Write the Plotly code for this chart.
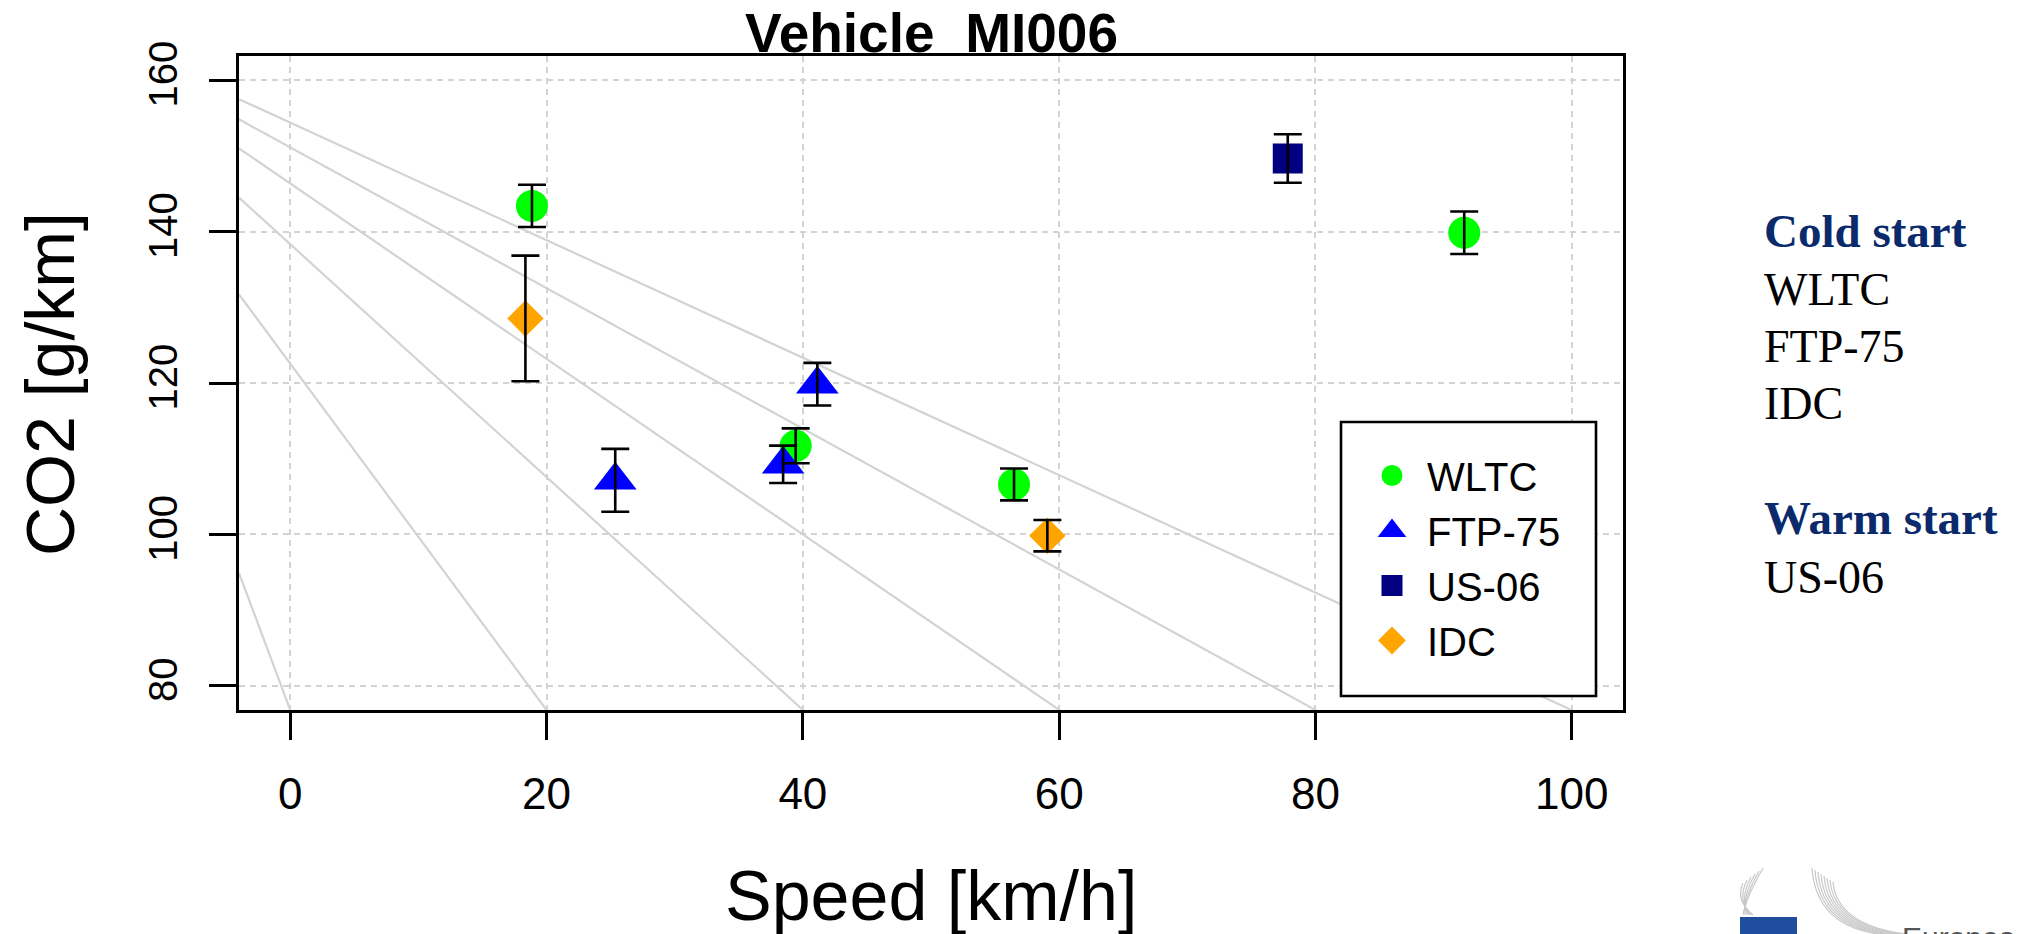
import plotly.graph_objects as go

# ---------------- data ----------------
wltc_speed = [18.86, 39.44, 56.48, 91.61]
wltc_co2 = [143.4, 111.7, 106.6, 139.85]
wltc_err = [2.8, 2.3, 2.1, 2.8]

ftp_speed = [25.36, 38.46, 41.13]
ftp_co2 = [107.15, 109.26, 119.84]
ftp_err = [4.15, 2.47, 2.82]

us06_speed = [77.84]
us06_co2 = [149.66]
us06_err = [3.2]

idc_speed = [18.35, 59.08]
idc_co2 = [128.53, 99.83]
idc_err = [8.3, 2.07]

# grey reference lines: CO2 = intercept + slope * speed
ref_intercepts = [154.39, 151.12, 146.36, 138.33, 122.55, 76.8]
ref_slopes = [-0.776, -0.929, -1.159, -1.538, -2.2875, -4.5225]

x_ticks = [0, 20, 40, 60, 80, 100]
y_ticks = [80, 100, 120, 140, 160]
x_range = [-4, 104]
y_range = [76.8, 163.2]

cold_start = ["WLTC", "FTP-75", "IDC"]
warm_start = ["US-06"]

# ---------------- layout geometry ----------------
OFF = 8  # page body margin
W, H = 2023 - OFF, 934 - OFF
PL, PR, PT, PB = 239, 1623, 56, 710  # plot area in screen pixels
L, T = PL - OFF, PT - OFF
R = W - (PR - OFF)
B = H - (PB - OFF)
PW, PH = PR - PL, PB - PT


def px_x(x):
    return (x - PL) / PW


def px_y(y):
    return (PB - y) / PH


SANS = "Liberation Sans, Arial, sans-serif"
SERIF = "Liberation Serif, Times New Roman, serif"
NAVY = "#0b2a6b"

fig = go.Figure()

# reference lines
for a, b in zip(ref_intercepts, ref_slopes):
    fig.add_trace(go.Scatter(
        x=x_range, y=[a + b * x_range[0], a + b * x_range[1]],
        mode="lines", line=dict(color="#d3d3d3", width=2.2),
        showlegend=False, hoverinfo="skip"))

series = [
    ("WLTC", wltc_speed, wltc_co2, wltc_err, "circle", "#00ff00", 32),
    ("FTP-75", ftp_speed, ftp_co2, ftp_err, "triangle-up", "#0000ff", 37),
    ("US-06", us06_speed, us06_co2, us06_err, "square", "#000080", 30),
    ("IDC", idc_speed, idc_co2, idc_err, "diamond", "#ffa500", 28),
]

for name, xs, ys, es, sym, col, size in series:
    fig.add_trace(go.Scatter(
        x=xs, y=ys, mode="markers", name=name, legendgroup=name,
        marker=dict(symbol=sym, color=col, size=size, line=dict(width=0)),
        showlegend=False))

# error bars drawn on top of the markers
for name, xs, ys, es, sym, col, size in series:
    fig.add_trace(go.Scatter(
        x=xs, y=ys, mode="markers", legendgroup=name,
        marker=dict(size=1, opacity=0),
        error_y=dict(type="data", array=es, visible=True,
                     color="black", thickness=2.6, width=14),
        showlegend=False, hoverinfo="skip"))

# legend entries (bigger symbols via a same-colour outline)
for name, xs, ys, es, sym, col, size in series:
    fig.add_trace(go.Scatter(
        x=[None], y=[None], mode="markers", name=name, legendgroup=name,
        marker=dict(symbol=sym, color=col, size=size, line=dict(width=5, color=col)),
        showlegend=True, hoverinfo="skip"))

axis_common = dict(
    showline=True, mirror=True, linecolor="black", linewidth=2.6,
    ticks="outside", ticklen=27, tickwidth=2.6, tickcolor="black",
    showgrid=True, gridcolor="#d3d3d3", gridwidth=2, griddash="6px,5px",
    zeroline=False,
)

fig.update_xaxes(range=x_range, tickvals=x_ticks, ticktext=[str(v) for v in x_ticks],
                 ticklabelstandoff=16, tickfont=dict(family=SANS, size=44, color="black"),
                 **axis_common)
fig.update_yaxes(range=y_range, tickvals=y_ticks, ticktext=[str(v) for v in y_ticks],
                 tickangle=-90, ticklabelstandoff=16,
                 tickfont=dict(family=SANS, size=40, color="black"), **axis_common)

annotations = [
    dict(text="<b>Vehicle\u00a0\u00a0MI006</b>", x=0.5, y=px_y(33), xref="paper", yref="paper",
         xanchor="center", yanchor="middle", showarrow=False,
         font=dict(family=SANS, size=55, color="black")),
    dict(text="Speed [km/h]", x=0.5, y=px_y(896), xref="paper", yref="paper",
         xanchor="center", yanchor="middle", showarrow=False,
         font=dict(family=SANS, size=70, color="black")),
    dict(text="CO2 [g/km]", x=px_x(50), y=px_y(384), xref="paper", yref="paper",
         xanchor="center", yanchor="middle", showarrow=False, textangle=-90,
         font=dict(family=SANS, size=68, color="black")),
    dict(text="<b>Cold start</b>", x=px_x(1762), y=px_y(231), xref="paper", yref="paper",
         xanchor="left", yanchor="middle", showarrow=False,
         font=dict(family=SERIF, size=47, color=NAVY)),
    dict(text="<b>Warm start</b>", x=px_x(1762), y=px_y(518), xref="paper", yref="paper",
         xanchor="left", yanchor="middle", showarrow=False,
         font=dict(family=SERIF, size=47, color=NAVY)),
]
for i, lab in enumerate(cold_start):
    annotations.append(dict(text=lab, x=px_x(1762), y=px_y(289 + 57.2 * i), xref="paper", yref="paper",
                            xanchor="left", yanchor="middle", showarrow=False,
                            font=dict(family=SERIF, size=46, color="black")))
for i, lab in enumerate(warm_start):
    annotations.append(dict(text=lab, x=px_x(1762), y=px_y(577 + 57.2 * i), xref="paper", yref="paper",
                            xanchor="left", yanchor="middle", showarrow=False,
                            font=dict(family=SERIF, size=46, color="black")))
# partial logo text at bottom right
annotations.append(dict(text="European", x=px_x(1900), y=px_y(919), xref="paper", yref="paper",
                        xanchor="left", yanchor="top", showarrow=False,
                        font=dict(family=SANS, size=30, color="#555555")))

shapes = [
    # legend box (white, covers lines like R's legend)
    dict(type="rect", xref="paper", yref="paper",
         x0=px_x(1341), x1=px_x(1596), y0=px_y(696), y1=px_y(422),
         fillcolor="white", line=dict(color="black", width=2.6), layer="above"),
    # logo fragments
    dict(type="rect", xref="paper", yref="paper",
         x0=px_x(1740), x1=px_x(1797), y0=px_y(940), y1=px_y(917),
         fillcolor="#1f4e9e", line=dict(width=0)),
]
for k in range(6):
    shapes.append(dict(type="path", xref="paper", yref="paper",
                       path=f"M {px_x(1763 - k*4)},{px_y(868 + k*3)} Q {px_x(1745 - k*2)},{px_y(900)} {px_x(1743 + k*2)},{px_y(915)}",
                       line=dict(color="#c8c8c8", width=1.2)))
for k in range(8):
    shapes.append(dict(type="path", xref="paper", yref="paper",
                       path=f"M {px_x(1812 + k*3)},{px_y(868 + k*2)} Q {px_x(1816 + k*3)},{px_y(925)} {px_x(1878 + k*4)},{px_y(934)}",
                       line=dict(color="#c8c8c8", width=1.2)))

fig.update_layout(
    width=W, height=H, autosize=False,
    margin=dict(l=L, r=R, t=T, b=B, pad=0),
    paper_bgcolor="white", plot_bgcolor="white",
    annotations=annotations, shapes=shapes,
    legend=dict(x=px_x(1357), xanchor="left", y=px_y(443), yanchor="top",
                bgcolor="rgba(0,0,0,0)", borderwidth=0, itemwidth=60,
                font=dict(family=SANS, size=40, color="black"),
                tracegroupgap=0),
    hovermode=False,
)

fig.write_html("out.html")
